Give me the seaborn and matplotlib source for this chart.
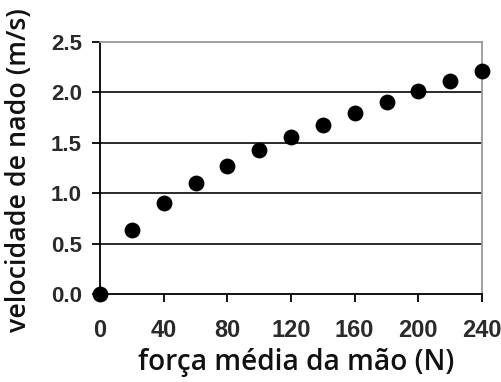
import matplotlib
matplotlib.use("Agg")
import matplotlib.pyplot as plt
import seaborn as sns
import pandas as pd

forca = [0, 20, 40, 60, 80, 100, 120, 140, 160, 180, 200, 220, 240]
velocidade = [0.0, 0.63, 0.90, 1.10, 1.27, 1.43, 1.56, 1.68, 1.80, 1.90, 2.01, 2.11, 2.21]
xticks = [0, 40, 80, 120, 160, 200, 240]
yticks = [0.0, 0.5, 1.0, 1.5, 2.0, 2.5]

sns.set_theme(style="white")
plt.rcParams['font.family'] = ['Liberation Sans', 'DejaVu Sans']

df = pd.DataFrame({"forca": forca, "vel": velocidade})

fig = plt.figure(figsize=(5.01, 3.82), dpi=100)
ax = fig.add_axes([100/501, 88/382, 382/501, 252/382])
sns.scatterplot(data=df, x="forca", y="vel", ax=ax, color="black", s=130,
                edgecolor="black", linewidth=0, zorder=5, clip_on=False, legend=False)

ax.set_xlim(0, 240)
ax.set_ylim(0, 2.5)
ax.set_xticks(xticks)
ax.set_yticks(yticks)
ax.set_xticklabels([str(v) for v in xticks])
ax.set_yticklabels([f"{v:.1f}" for v in yticks])
for y in yticks[1:-1]:
    ax.axhline(y, color="#1a1a1a", lw=1.3, zorder=1)

for lab in ax.get_xticklabels():
    lab.set_fontfamily("Liberation Sans")
    lab.set_fontweight("bold")
    lab.set_fontsize(17)
    lab.set_color("#2a2a2a")
for lab in ax.get_yticklabels():
    lab.set_fontfamily("Liberation Sans")
    lab.set_fontweight("bold")
    lab.set_fontsize(16)
    lab.set_color("#2a2a2a")

ax.tick_params(axis="both", direction="out", length=6, width=1.3, color="black",
               bottom=True, left=True)
ax.tick_params(axis="x", pad=12)
ax.tick_params(axis="y", pad=7)

for s in ["left", "bottom"]:
    ax.spines[s].set_color("black")
    ax.spines[s].set_linewidth(1.3)
for s in ["top", "right"]:
    ax.spines[s].set_color("#999999")
    ax.spines[s].set_linewidth(1.3)

ax.set_xlabel("força média da mão (N)", fontsize=20.2, family=["Open Sans", "DejaVu Sans"],
              fontweight="semibold", color="#111111")
ax.set_ylabel("velocidade de nado (m/s)", fontsize=19.3, family=["Open Sans", "DejaVu Sans"],
              fontweight="semibold", color="#111111")
ax.xaxis.set_label_coords(0.5 + 5/382, -54/252)
ax.yaxis.set_label_coords(-67/382, 0.49)

fig.savefig("out.png", dpi=100)
